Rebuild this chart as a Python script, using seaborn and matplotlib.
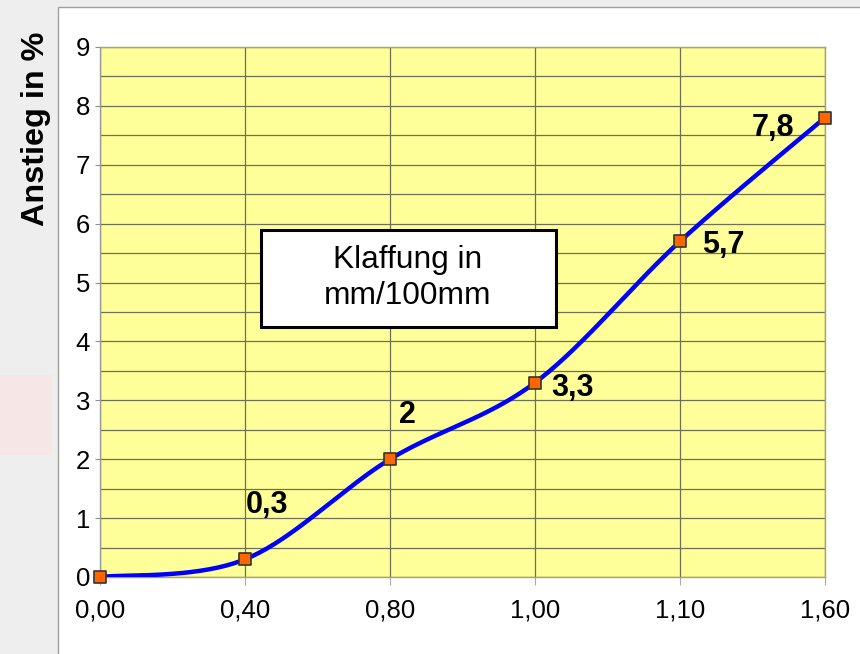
import numpy as np
import pandas as pd
import matplotlib
matplotlib.use("Agg")
import matplotlib.pyplot as plt
from matplotlib.patches import Rectangle
import seaborn as sns

# Gap categories (mm/100mm) and measured rise in percent
categories = ["0,00", "0,40", "0,80", "1,00", "1,10", "1,60"]
rise = [0.0, 0.3, 2.0, 3.3, 5.7, 7.8]
# label offsets in (category, percent) units relative to each point
label_dx = [None, 0.15, 0.12, 0.26, 0.30, -0.36]
label_dy = [None, 0.92, 0.75, -0.09, -0.06, -0.18]

sns.set_theme(style="white")
plt.rcParams["font.family"] = ["Liberation Sans", "DejaVu Sans"]

W, H = 860, 654
fig = plt.figure(figsize=(W / 100, H / 100), dpi=100, facecolor="#eeeeee")

# white chart area with a thin grey frame
fig.add_artist(Rectangle((58 / W, -0.01), 1, 1 + 0.01 - 7 / H, transform=fig.transFigure,
                         facecolor="white", edgecolor="#a0a0a0", lw=1.0, zorder=-10))
# faint decoration on the left margin
fig.add_artist(Rectangle((0, 1 - 455 / H), 52 / W, 80 / H, transform=fig.transFigure,
                         facecolor="#f7e6e6", edgecolor="none", zorder=-10))

ax = fig.add_axes([100 / W, 1 - 577 / H, 725 / W, 530 / H])
ax.set_zorder(2)
ax.set_facecolor("#ffff99")

df = pd.DataFrame({"pos": np.arange(len(categories)), "rise": rise})


def smooth_curve(x, y, steps=40):
    """Cubic Bezier smoothing through every point (Catmull-Rom tangents)."""
    x = np.asarray(x, float)
    y = np.asarray(y, float)
    px = np.concatenate([[x[0]], x, [x[-1]]])
    py = np.concatenate([[y[0]], y, [y[-1]]])
    t = np.linspace(0, 1, steps)[:, None]
    xs, ys = [], []
    for i in range(1, len(px) - 2):
        p0 = np.array([px[i], py[i]])
        p3 = np.array([px[i + 1], py[i + 1]])
        p1 = p0 + (np.array([px[i + 1], py[i + 1]]) - np.array([px[i - 1], py[i - 1]])) / 6
        p2 = p3 - (np.array([px[i + 2], py[i + 2]]) - np.array([px[i], py[i]])) / 6
        b = ((1 - t) ** 3) * p0 + 3 * ((1 - t) ** 2) * t * p1 + 3 * (1 - t) * t ** 2 * p2 + t ** 3 * p3
        xs.append(b[:, 0])
        ys.append(b[:, 1])
    return np.concatenate(xs), np.concatenate(ys)


cx, cy = smooth_curve(df["pos"], df["rise"])
curve = pd.DataFrame({"pos": cx, "rise": cy})
sns.lineplot(data=curve, x="pos", y="rise", sort=False, color="#0000ff", lw=3.2, ax=ax, zorder=3)
sns.scatterplot(data=df, x="pos", y="rise", marker="s", s=70, color="#ff6600",
                edgecolor="#333333", linewidth=1.2, ax=ax, zorder=4, clip_on=False)

# value labels
for i, v in enumerate(rise):
    if label_dx[i] is None:
        continue
    ax.text(i + label_dx[i], v + label_dy[i], f"{v:g}".replace(".", ","),
            ha="center", va="center", fontsize=22, fontweight="bold", color="black", zorder=5)

ax.set_xlim(0, len(categories) - 1)
ax.set_ylim(0, 9)
ax.set_xticks(range(len(categories)))
ax.set_xticklabels(categories)
ax.set_yticks(range(0, 10))
ax.set_yticks(np.arange(0.5, 9, 1.0), minor=True)

ax.grid(True, which="major", axis="both", color="#6f6f55", lw=0.9)
ax.grid(True, which="minor", axis="y", color="#6f6f55", lw=0.9)
ax.set_axisbelow(True)

ax.tick_params(axis="x", which="major", bottom=True, length=5.8, width=0.8, color="#aaaaaa",
               direction="out", labelsize=18.5, pad=10, labelcolor="black")
ax.tick_params(axis="y", which="major", left=True, length=3.6, width=0.8, color="#909090",
               labelsize=18.5, pad=3.6, labelcolor="black")
ax.tick_params(axis="y", which="minor", left=False)

for side in ["top", "right", "bottom"]:
    ax.spines[side].set_color("#a8a860")
    ax.spines[side].set_linewidth(1.0)
ax.spines["left"].set_color("#9a9a9a")
ax.spines["left"].set_linewidth(1.0)

ax.set_xlabel("")
ax.set_ylabel("")
fig.text(36 / W, 1 - 129 / H, "Anstieg in %", rotation=90, ha="center", va="center",
         fontsize=23.3, fontweight="bold", color="black", zorder=5)

# caption box inside the plot
fig.add_artist(Rectangle((261 / W, 1 - 327 / H), 295 / W, 97 / H, transform=fig.transFigure,
                         facecolor="white", edgecolor="black", lw=2.2, zorder=6))
fig.text(408 / W, 1 - 278 / H, "Klaffung in\nmm/100mm", ha="center", va="center",
         fontsize=22.8, color="black", linespacing=1.25, zorder=7)

fig.savefig("out.png", dpi=100, facecolor=fig.get_facecolor())
